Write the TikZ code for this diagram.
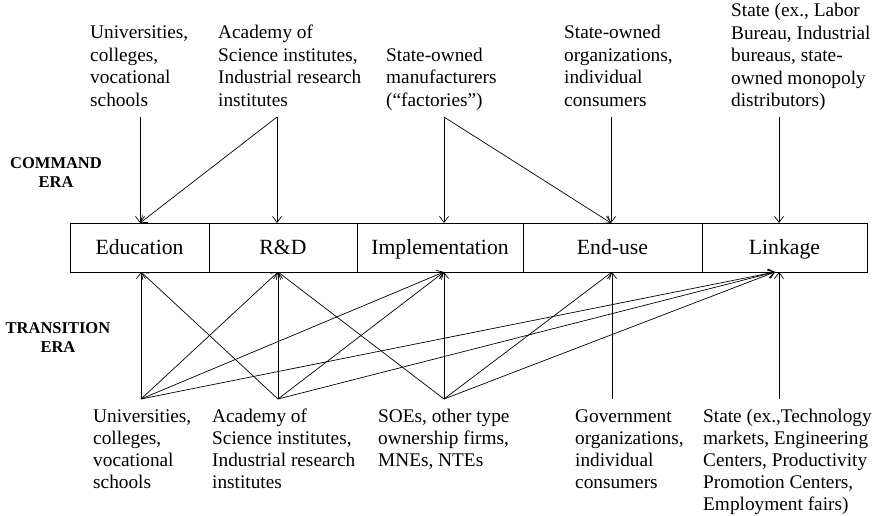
\documentclass[tikz,border=0pt]{standalone}
\usepackage{fontspec}
\setmainfont{Liberation Serif}
\usetikzlibrary{arrows.meta}
\begin{document}
\begin{tikzpicture}[x=1pt,y=-1pt,
  txt/.style={font=\fontsize{19.3}{22.5}\selectfont, align=left, inner sep=0pt, anchor=north west},
  txtb/.style={font=\fontsize{19.3}{22}\selectfont, align=left, inner sep=0pt, anchor=north west},
  era/.style={font=\fontsize{16.5}{19.5}\selectfont\bfseries, align=center, inner sep=0pt, anchor=north},
  cell/.style={draw, line width=0.8pt, minimum height=49pt, inner sep=0pt,
    font=\fontsize{21.7}{24}\selectfont, text height=14.3pt, text depth=0pt},
  link/.style={line width=0.7pt, -{Straight Barb[length=6pt,width=9pt,line width=0.7pt]}}
]
\useasboundingbox (0,0) rectangle (876,516);

% stage cells
\node[cell, minimum width=139pt] (edu) at (139.5,247.5) {Education};
\node[cell, minimum width=148pt] (rd)  at (283,247.5) {R\&D};
\node[cell, minimum width=166pt] (imp) at (440,247.5) {Implementation};
\node[cell, minimum width=179pt] (end) at (612.5,247.5) {End-use};
\node[cell, minimum width=165pt] (lnk) at (784.5,247.5) {Linkage};

% era labels
\node[era] (cmd) at (56,154.4) {\strut COMMAND\\ERA};
\node[era] (trn) at (58,319.4) {\strut TRANSITION\\ERA};

% command era actors
\node[txt] (cU) at (90,23) {\strut Universities,\\colleges,\\vocational\\schools};
\node[txt] (cA) at (218,23) {\strut Academy of\\Science institutes,\\Industrial research\\institutes};
\node[txt] (cM) at (386,45.5) {\strut State-owned\\manufacturers\\(“factories”)};
\node[txt] (cO) at (564,23) {\strut State-owned\\organizations,\\individual\\consumers};
\node[txt] (cS) at (731,0.8) {\strut State (ex., Labor\\Bureau, Industrial\\bureaus, state-\\owned monopoly\\distributors)};

% transition era actors
\node[txtb] (tU) at (93,406.6) {\strut Universities,\\colleges,\\vocational\\schools};
\node[txtb] (tA) at (212,406.6) {\strut Academy of\\Science institutes,\\Industrial research\\institutes};
\node[txtb] (tS) at (378,406.6) {\strut SOEs, other type\\ownership firms,\\MNEs, NTEs};
\node[txtb] (tG) at (575,406.6) {\strut Government\\organizations,\\individual\\consumers};
\node[txtb] (tT) at (703,406.6) {\strut State (ex.,Technology\\markets, Engineering\\Centers, Productivity\\Promotion Centers,\\Employment fairs)};

% command era points
\coordinate (sU) at (140,117);
\coordinate (sA) at (277,117);
\coordinate (sM) at (444,117);
\coordinate (sO) at (611,117);
\coordinate (sS) at (779,117);
\coordinate (aE) at (140,223);
\coordinate (aR) at (277,223);
\coordinate (aI) at (444,223);
\coordinate (aN) at (611,223);
\coordinate (aL) at (779,223);

% transition era points
\coordinate (qU) at (141,399);
\coordinate (qA) at (278,399);
\coordinate (qS) at (444,399);
\coordinate (qG) at (612,399);
\coordinate (qT) at (779,399);
\coordinate (bE) at (141,272);
\coordinate (bR) at (278,272);
\coordinate (bI) at (444,272);
\coordinate (bN) at (612,272);
\coordinate (bL) at (779,272);
\coordinate (bX) at (775,272);

% command era arrows
\draw[link] (sU) -- (aE);
\draw[link] (sA) -- (aE);
\draw[link] (sA) -- (aR);
\draw[link] (sM) -- (aI);
\draw[link] (sM) -- (aN);
\draw[link] (sO) -- (aN);
\draw[link] (sS) -- (aL);

% transition era arrows
\draw[link] (qU) -- (bE);
\draw[link] (qU) -- (bR);
\draw[link] (qU) -- (bI);
\draw[link] (qU) -- (bX);
\draw[link] (qA) -- (bE);
\draw[link] (qA) -- (bR);
\draw[link] (qA) -- (bI);
\draw[link] (qA) -- (bX);
\draw[link] (qS) -- (bR);
\draw[link] (qS) -- (bI);
\draw[link] (qS) -- (bN);
\draw[link] (qS) -- (bX);
\draw[link] (qG) -- (bN);
\draw[link] (qT) -- (bL);
\end{tikzpicture}
\end{document}
